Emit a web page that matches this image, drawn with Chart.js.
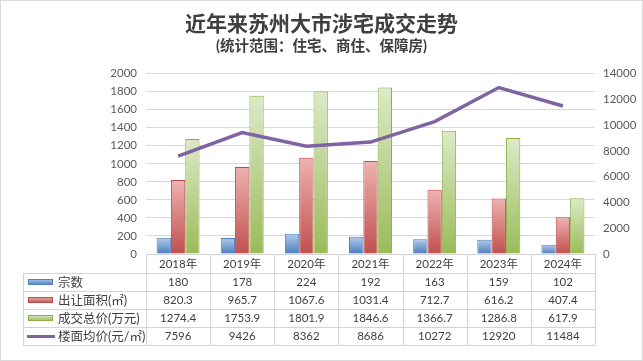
<!DOCTYPE html>
<html>
<head>
<meta charset="utf-8">
<script src="https://cdn.jsdelivr.net/npm/chart.js@4"></script>
<style>
  html, body { margin: 0; padding: 0; background: #fff; }
  #wrap { width: 643px; height: 361px; position: relative; }
</style>
</head>
<body>
<div id="wrap"><canvas id="c" width="643" height="361"></canvas></div>
<script>
const years = ['2018年', '2019年', '2020年', '2021年', '2022年', '2023年', '2024年'];
const countData = [180, 178, 224, 192, 163, 159, 102];
const areaData = [820.3, 965.7, 1067.6, 1031.4, 712.7, 616.2, 407.4];
const totalData = [1274.4, 1753.9, 1801.9, 1846.6, 1366.7, 1286.8, 617.9];
const priceData = [7596, 9426, 8362, 8686, 10272, 12920, 11484];
const seriesNames = ['宗数', '出让面积(㎡)', '成交总价(万元)', '楼面均价(元/㎡)'];

const FONT = "Lato, 'Noto Sans CJK SC', sans-serif";
Chart.defaults.font.family = FONT;

// per-bar vertical gradient, light on top, dark at the bottom
function barFill(top, bottom, fallback) {
  return function (ctx) {
    const chart = ctx.chart;
    if (!chart.chartArea || ctx.type !== 'data') return fallback;
    const y = chart.scales.y.getPixelForValue(ctx.raw);
    const base = chart.chartArea.bottom;
    if (!isFinite(y) || base - y < 1) return fallback;
    const g = chart.ctx.createLinearGradient(0, y, 0, base);
    g.addColorStop(0, top);
    g.addColorStop(1, bottom);
    return g;
  };
}

const swatches = [
  { top: '#b3cbec', bottom: '#4a7bbb', border: '#4f81bd' },
  { top: '#eeb2b1', bottom: '#c0504d', border: '#be4b48' },
  { top: '#dde9c8', bottom: '#9abb58', border: '#8db04a' }
];

const dataTable = {
  id: 'dataTable',
  afterDraw(chart) {
    const ctx = chart.ctx;
    const xs = chart.scales.x;
    const area = chart.chartArea;
    const half = (xs.getPixelForValue(1) - xs.getPixelForValue(0)) / 2;
    const top = area.bottom;
    const headH = 19, rowH = 18;
    const leftX = 23;
    const rows = [countData, areaData, totalData, priceData];
    const bottom = top + headH + rowH * rows.length;

    ctx.save();
    ctx.strokeStyle = '#d4d4d4';
    ctx.lineWidth = 1;
    ctx.beginPath();
    // horizontal lines
    ctx.moveTo(area.left, top + 0.5); ctx.lineTo(area.right, top + 0.5);
    for (let r = 0; r <= rows.length; r++) {
      const y = Math.round(top + headH + r * rowH) + 0.5;
      ctx.moveTo(leftX, y); ctx.lineTo(area.right, y);
    }
    // vertical lines
    ctx.moveTo(leftX + 0.5, top + headH); ctx.lineTo(leftX + 0.5, bottom);
    for (let i = 0; i <= years.length; i++) {
      const x = Math.round(xs.getPixelForValue(0) - half + i * half * 2) + 0.5;
      ctx.moveTo(x, top); ctx.lineTo(x, bottom);
    }
    ctx.stroke();

    ctx.fillStyle = '#404040';
    ctx.textAlign = 'center';
    ctx.textBaseline = 'middle';
    ctx.font = '11.5px ' + FONT;
    years.forEach((y, i) => ctx.fillText(y, xs.getPixelForValue(i), top + headH / 2 + 0.5));
    rows.forEach((vals, r) => {
      const cy = top + headH + r * rowH + rowH / 2 + 0.5;
      vals.forEach((v, i) => ctx.fillText(String(v), xs.getPixelForValue(i), cy));
    });

    // legend keys
    ctx.textAlign = 'left';
    ctx.font = '12.5px ' + FONT;
    seriesNames.forEach((name, r) => {
      const cy = top + headH + r * rowH + rowH / 2;
      if (r < 3) {
        const s = swatches[r];
        const g = ctx.createLinearGradient(0, cy - 3, 0, cy + 3);
        g.addColorStop(0, s.top); g.addColorStop(1, s.bottom);
        ctx.fillStyle = g;
        ctx.fillRect(28, cy - 3, 25, 6);
        ctx.strokeStyle = s.border;
        ctx.strokeRect(28.5, cy - 2.5, 24, 5);
      } else {
        ctx.strokeStyle = '#8064a2';
        ctx.lineWidth = 3;
        ctx.beginPath();
        ctx.moveTo(27, cy + 0.5); ctx.lineTo(55, cy + 0.5);
        ctx.stroke();
        ctx.lineWidth = 1;
      }
      ctx.fillStyle = '#404040';
      ctx.fillText(name, 58, cy + 0.5);
    });

    // outer frame
    ctx.strokeStyle = '#d9d9d9';
    ctx.strokeRect(0.5, 0.5, chart.width - 1, chart.height - 1);
    ctx.restore();
  }
};

new Chart(document.getElementById('c'), {
  type: 'bar',
  data: {
    labels: years,
    datasets: [
      { type: 'line', label: seriesNames[3], data: priceData, yAxisID: 'y2', order: 0,
        borderColor: '#8064a2', borderWidth: 3.5, pointRadius: 0, tension: 0 },
      { label: seriesNames[0], data: countData, yAxisID: 'y', order: 1,
        backgroundColor: barFill(swatches[0].top, swatches[0].bottom, '#4f81bd'),
        borderColor: swatches[0].border, borderWidth: 1 },
      { label: seriesNames[1], data: areaData, yAxisID: 'y', order: 1,
        backgroundColor: barFill(swatches[1].top, swatches[1].bottom, '#c0504d'),
        borderColor: swatches[1].border, borderWidth: 1 },
      { label: seriesNames[2], data: totalData, yAxisID: 'y', order: 1,
        backgroundColor: barFill(swatches[2].top, swatches[2].bottom, '#9bbb59'),
        borderColor: swatches[2].border, borderWidth: 1 }
    ]
  },
  options: {
    responsive: false,
    animation: false,
    layout: { padding: { left: 0, right: 0, top: 0, bottom: 107 } },
    datasets: { bar: { categoryPercentage: 0.67, barPercentage: 1 } },
    plugins: {
      legend: { display: false },
      tooltip: { enabled: false },
      title: {
        display: true,
        text: '近年来苏州大市涉宅成交走势',
        color: '#3f3f3f',
        font: { size: 21, weight: 'bold' },
        padding: { top: 12, bottom: 0 }
      },
      subtitle: {
        display: true,
        text: '(统计范围：住宅、商住、保障房)',
        color: '#3f3f3f',
        font: { size: 14.5, weight: 'bold' },
        padding: { top: 0, bottom: 19 }
      }
    },
    scales: {
      x: { display: false },
      y: {
        position: 'left', min: 0, max: 2000,
        ticks: { stepSize: 200, padding: 9, color: '#595959', font: { size: 11.5 },
          callback: v => String(v) },
        grid: { color: '#d9d9d9', drawTicks: false },
        border: { display: false },
        afterFit(s) { s.width = 146; }
      },
      y2: {
        position: 'right', min: 0, max: 14000,
        ticks: { stepSize: 2000, padding: 8, color: '#595959', font: { size: 11.5 },
          callback: v => String(v) },
        grid: { display: false, drawTicks: false },
        border: { display: false },
        afterFit(s) { s.width = 48; }
      }
    }
  },
  plugins: [dataTable]
});
</script>
</body>
</html>
